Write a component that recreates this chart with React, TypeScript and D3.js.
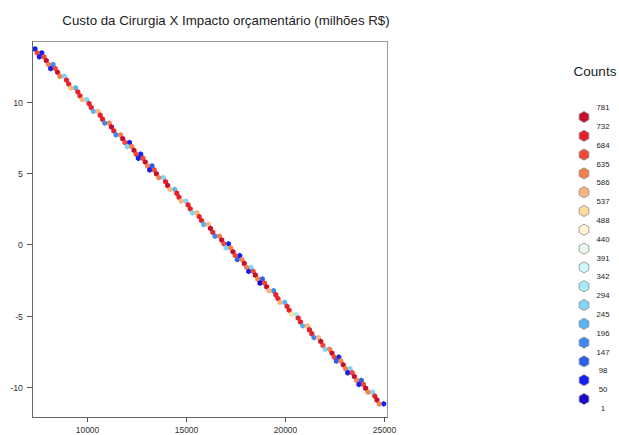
import React from "react";
import * as d3 from "d3";

const title = "Custo da Cirurgia X Impacto orçamentário (milhões R$)";
const legendTitle = "Counts";

const xTicks = [10000, 15000, 20000, 25000];
const yTicks = [10, 5, 0, -5, -10];

const breaks = [1, 50, 98, 147, 196, 245, 294, 342, 391, 440, 488, 537, 586, 635, 684, 732, 781];
const binColors = [
  "#1c08cf", "#1520f0", "#2b5ff0", "#3f89ee", "#5bb2f2", "#7fd5f7", "#a8ebfa", "#cff8fa",
  "#eefaee", "#fff4cf", "#fddca2", "#fbb57a", "#f7804f", "#ee4839", "#e5212c", "#c40f2d",
];

const rowImpact = [
  13.69, 13.42, 13.14, 12.87, 12.60, 12.32, 12.05, 11.78, 11.51, 11.23,
  10.96, 10.69, 10.41, 10.14, 9.87, 9.59, 9.32, 9.05, 8.77, 8.50,
  8.23, 7.95, 7.68, 7.41, 7.14, 6.86, 6.59, 6.32, 6.04, 5.77,
  5.50, 5.22, 4.95, 4.68, 4.40, 4.13, 3.86, 3.59, 3.31, 3.04,
  2.77, 2.49, 2.22, 1.95, 1.67, 1.40, 1.13, 0.85, 0.58, 0.31,
  0.04, -0.24, -0.51, -0.78, -1.06, -1.33, -1.60, -1.88, -2.15, -2.42,
  -2.70, -2.97, -3.24, -3.52, -3.79, -4.06, -4.33, -4.61, -4.88, -5.15,
  -5.43, -5.70, -5.97, -6.25, -6.52, -6.79, -7.07, -7.34, -7.61, -7.89,
  -8.16, -8.43, -8.70, -8.98, -9.25, -9.52, -9.80, -10.07, -10.34, -10.62,
  -10.89, -11.16,
];

const mainCost = [
  7390, 7500, 7840, 7960, 8070, 8410, 8530, 8640, 8980, 9090,
  9210, 9550, 9660, 9780, 10120, 10230, 10570, 10680, 10800, 11140,
  11250, 11370, 11710, 11820, 11930, 12280, 12390, 12500, 12840, 12960,
  13070, 13410, 13520, 13640, 13980, 14090, 14210, 14550, 14660, 14770,
  15120, 15230, 15570, 15680, 15800, 16140, 16250, 16370, 16710, 16820,
  16930, 17270, 17390, 17500, 17840, 17960, 18070, 18410, 18520, 18640,
  18980, 19090, 19210, 19550, 19660, 19770, 20120, 20230, 20340, 20680,
  20800, 21140, 21250, 21370, 21710, 21820, 21930, 22270, 22390, 22500,
  22840, 22960, 23070, 23410, 23520, 23640, 23980, 24090, 24210, 24550,
  24660, 24770,
];

const mainCount = [
  60, 650, 650, 770, 590, 650, 770, 590, 690, 720,
  560, 690, 720, 540, 720, 690, 570, 720, 690, 590,
  740, 690, 590, 770, 650, 590, 780, 650, 650, 775,
  590, 650, 770, 590, 690, 740, 560, 690, 720, 550,
  700, 710, 545, 720, 690, 570, 740, 690, 590, 770,
  650, 590, 780, 650, 620, 781, 610, 650, 770, 590,
  660, 760, 560, 690, 720, 560, 690, 720, 530, 720,
  690, 565, 720, 690, 560, 760, 670, 590, 770, 650,
  610, 781, 620, 650, 775, 590, 650, 770, 590, 690,
  740, 620,
];

const sideCost = [
  null, 7730, 7610, null, 8300, 8180, null, 8870, null, null,
  9440, null, null, 10010, null, null, 10340, null, null, 10910,
  null, null, 11480, null, 12160, 12050, null, 12730, 12610, null,
  13300, 13180, null, 13870, null, null, 14440, null, null, 15000,
  null, null, 15340, null, null, 15910, null, null, 16480, null,
  17160, 17040, null, 17730, 17610, null, 18300, 18180, null, 18870,
  18750, null, 19440, null, null, 20000, null, null, 20570, null,
  null, 20910, null, null, 21480, null, null, 22040, null, 22730,
  22610, null, 23300, 23180, null, 23870, 23750, null, 24440, null,
  null, 25000,
];

const sideCount = [
  0, 60, 60, 0, 150, 60, 0, 250, 0, 0,
  240, 0, 0, 280, 0, 0, 230, 0, 0, 160,
  0, 0, 150, 0, 60, 250, 0, 80, 80, 0,
  130, 60, 0, 260, 0, 0, 200, 0, 0, 260,
  0, 0, 270, 0, 0, 220, 0, 0, 150, 0,
  60, 250, 0, 70, 100, 0, 270, 70, 0, 140,
  40, 0, 180, 0, 0, 240, 0, 0, 300, 0,
  0, 230, 0, 0, 180, 0, 0, 260, 0, 70,
  110, 0, 250, 80, 0, 130, 50, 0, 280, 0,
  0, 90,
];

const W = 619;
const H = 435;
const FONT = "'Liberation Sans', Arial, Helvetica, sans-serif";

function hexPath(r: number) {
  const pts = d3.range(6).map((i) => {
    const a = (Math.PI / 3) * i - Math.PI / 2;
    return [r * Math.cos(a), r * Math.sin(a)];
  });
  return "M" + pts.map((p) => p[0].toFixed(3) + "," + p[1].toFixed(3)).join("L") + "Z";
}

function colorFor(c: number) {
  let i = d3.bisectRight(breaks, c) - 1;
  i = Math.max(0, Math.min(binColors.length - 1, i));
  return binColors[i];
}

export default function App() {
  const x = d3.scaleLinear().domain([7237, 25167]).range([32, 387]);
  const y = d3.scaleLinear().domain([14.25, -12.08]).range([41, 417]);

  const hexes: { cx: number; cy: number; count: number }[] = [];
  rowImpact.forEach((imp, j) => {
    const sc = sideCost[j];
    if (sc !== null && sideCount[j] > 0) hexes.push({ cx: x(sc), cy: y(imp), count: sideCount[j] });
    hexes.push({ cx: x(mainCost[j]), cy: y(imp), count: mainCount[j] });
  });

  const smallHex = hexPath(2.9);
  const legHex = hexPath(5.6);

  const [x0, x1] = x.range();
  const [y0, y1] = y.range();

  const legendX = 584;
  const legendTop = 117;
  const legendStep = 18.8;

  return (
    <svg width={W} height={H} style={{ position: "absolute", left: 0, top: 0, background: "#fff" }} fontFamily={FONT}>
      <text x={226} y={24.5} fontSize={13.3} textAnchor="middle" fill="#222">{title}</text>

      <g>
        {hexes.map((h, i) => (
          <path key={i} d={smallHex} transform={`translate(${h.cx},${h.cy})`} fill={colorFor(h.count)} />
        ))}
      </g>

      <rect x={x0 + 0.5} y={y0 + 0.5} width={x1 - x0} height={y1 - y0} fill="none" stroke="#9a9a9a" strokeWidth={1} />
      <line x1={x0 + 0.5} x2={x0 + 0.5} y1={y0} y2={y1 + 1} stroke="#666" />
      <line x1={x0} x2={x1 + 1} y1={y1 + 0.5} y2={y1 + 0.5} stroke="#666" />

      {yTicks.map((t) => (
        <g key={"y" + t} transform={`translate(0,${Math.round(y(t)) + 0.5})`}>
          <line x1={x0 - 5} x2={x0} stroke="#555" />
          <text x={x0 - 9} y={3} fontSize={8.8} textAnchor="end" fill="#333">{t}</text>
        </g>
      ))}
      {xTicks.map((t) => (
        <g key={"x" + t} transform={`translate(${Math.round(x(t)) + 0.5},0)`}>
          <line y1={y1} y2={y1 + 5} stroke="#555" />
          <text y={432.5} fontSize={8.5} textAnchor="middle" fill="#333">{t}</text>
        </g>
      ))}

      <text x={595} y={76} fontSize={13.5} textAnchor="middle" fill="#222">{legendTitle}</text>
      {binColors.map((c, i) => {
        const k = binColors.length - 1 - i;
        return (
          <path key={"lh" + i} d={legHex} transform={`translate(${legendX},${legendTop + k * legendStep})`}
            fill={c} stroke="#8a8a8a" strokeWidth={0.8} />
        );
      })}
      {breaks.map((b, i) => {
        const k = breaks.length - 1 - i;
        return (
          <text key={"lb" + i} x={603} y={legendTop - legendStep / 2 + k * legendStep + 2.5} fontSize={7.8}
            textAnchor="middle" fill="#222">{b}</text>
        );
      })}
    </svg>
  );
}
